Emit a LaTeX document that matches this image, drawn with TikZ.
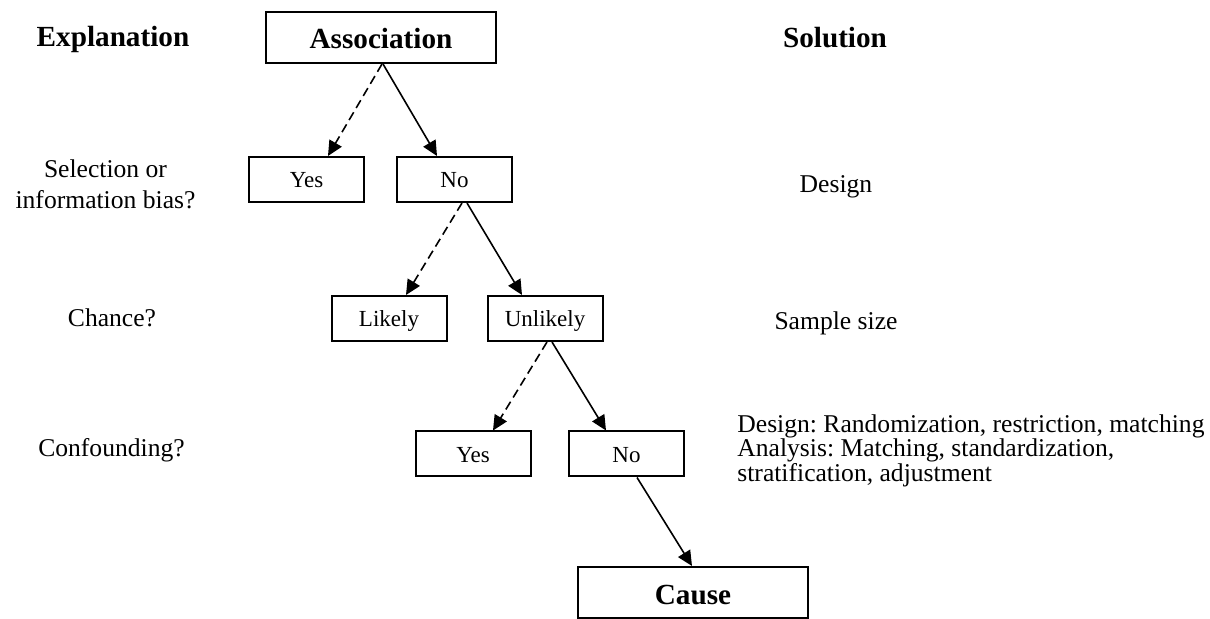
\documentclass[tikz,border=0pt]{standalone}
\usepackage{fontspec}
\setmainfont{Liberation Serif}
\usetikzlibrary{arrows.meta}
\usetikzlibrary{calc}
\frenchspacing

\begin{document}
\begin{tikzpicture}
[x=0.5pt,y=-0.5pt,%
  bigbox/.style={draw,line width=1pt,minimum width=115pt,minimum height=25.5pt,inner sep=0pt,%
    font=\fontsize{14.6pt}{17pt}\selectfont\bfseries,text height=11.5pt,text depth=0pt},%
  smallbox/.style={draw,line width=1pt,minimum width=57.5pt,minimum height=22.5pt,inner sep=0pt,%
    font=\fontsize{11.5pt}{14pt}\selectfont,text height=8.5pt,text depth=0pt},%
  head/.style={inner sep=0pt,font=\fontsize{14.6pt}{17pt}\selectfont\bfseries},%
  sidetext/.style={inner sep=0pt,font=\fontsize{12.8pt}{15.5pt}\selectfont},%
  yesarrow/.style={-{Triangle[length=7.5pt,width=7pt]},line width=0.8pt,dash pattern=on 4.5pt off 2.5pt},%
  noarrow/.style={-{Triangle[length=7.5pt,width=7pt]},line width=0.8pt}]
\useasboundingbox (0,0) rectangle (1210,619);

% the tree
\node[bigbox] (assoc) at (381,37.5) {Association};
\node[smallbox] (yesA) at (306.5,179.5) {Yes};
\node[smallbox] (noA) at (454.5,179.5) {No};
\node[smallbox] (likely) at (389,318.5) {Likely};
\node[smallbox] (unlikely) at (545,318.5) {Unlikely};
\node[smallbox] (yesB) at (473,454) {Yes};
\node[smallbox] (noB) at (626.5,454) {No};
\node[bigbox] (cause) at (693,592.5) {Cause};

\draw[yesarrow] ($(assoc.south)+(1,0)$) -- ($(yesA.north)+(21.5,0)$);
\draw[noarrow] ($(assoc.south)+(2,0)$) -- ($(noA.north)+(-17.5,0)$);
\draw[yesarrow] ($(noA.south)+(7.5,0)$) -- ($(likely.north)+(17,0)$);
\draw[noarrow] ($(noA.south)+(12.5,0)$) -- ($(unlikely.north)+(-23,0)$);
\draw[yesarrow] ($(unlikely.south)+(2,0)$) -- ($(yesB.north)+(20,0)$);
\draw[noarrow] ($(unlikely.south)+(7,0)$) -- ($(noB.north)+(-20.5,0)$);
\draw[noarrow] ($(noB.south)+(10.5,0)$) -- ($(cause.north)+(-1,0)$);

% left and right columns
\node[head,anchor=base] (explhead) at (113,47) {Explanation};
\node[head,anchor=base] (solhead) at (835,48) {Solution};
\node[sidetext,anchor=north,align=center] (bias) at (105.5,159.5) {Selection or\\information bias?};
\node[sidetext,anchor=base] (design) at (836,193) {Design};
\node[sidetext,anchor=base] (chance) at (112,327) {Chance?};
\node[sidetext,anchor=base] (sample) at (836,330) {Sample size};
\node[sidetext,anchor=base] (confound) at (111.5,457) {Confounding?};
\node[sidetext,anchor=north west,align=left,font=\fontsize{12.8pt}{12.25pt}\selectfont] (remedy) at (737,414)
  {Design: Randomization, restriction, matching\\Analysis: Matching, standardization,\\stratification, adjustment};
\end{tikzpicture}
\end{document}
